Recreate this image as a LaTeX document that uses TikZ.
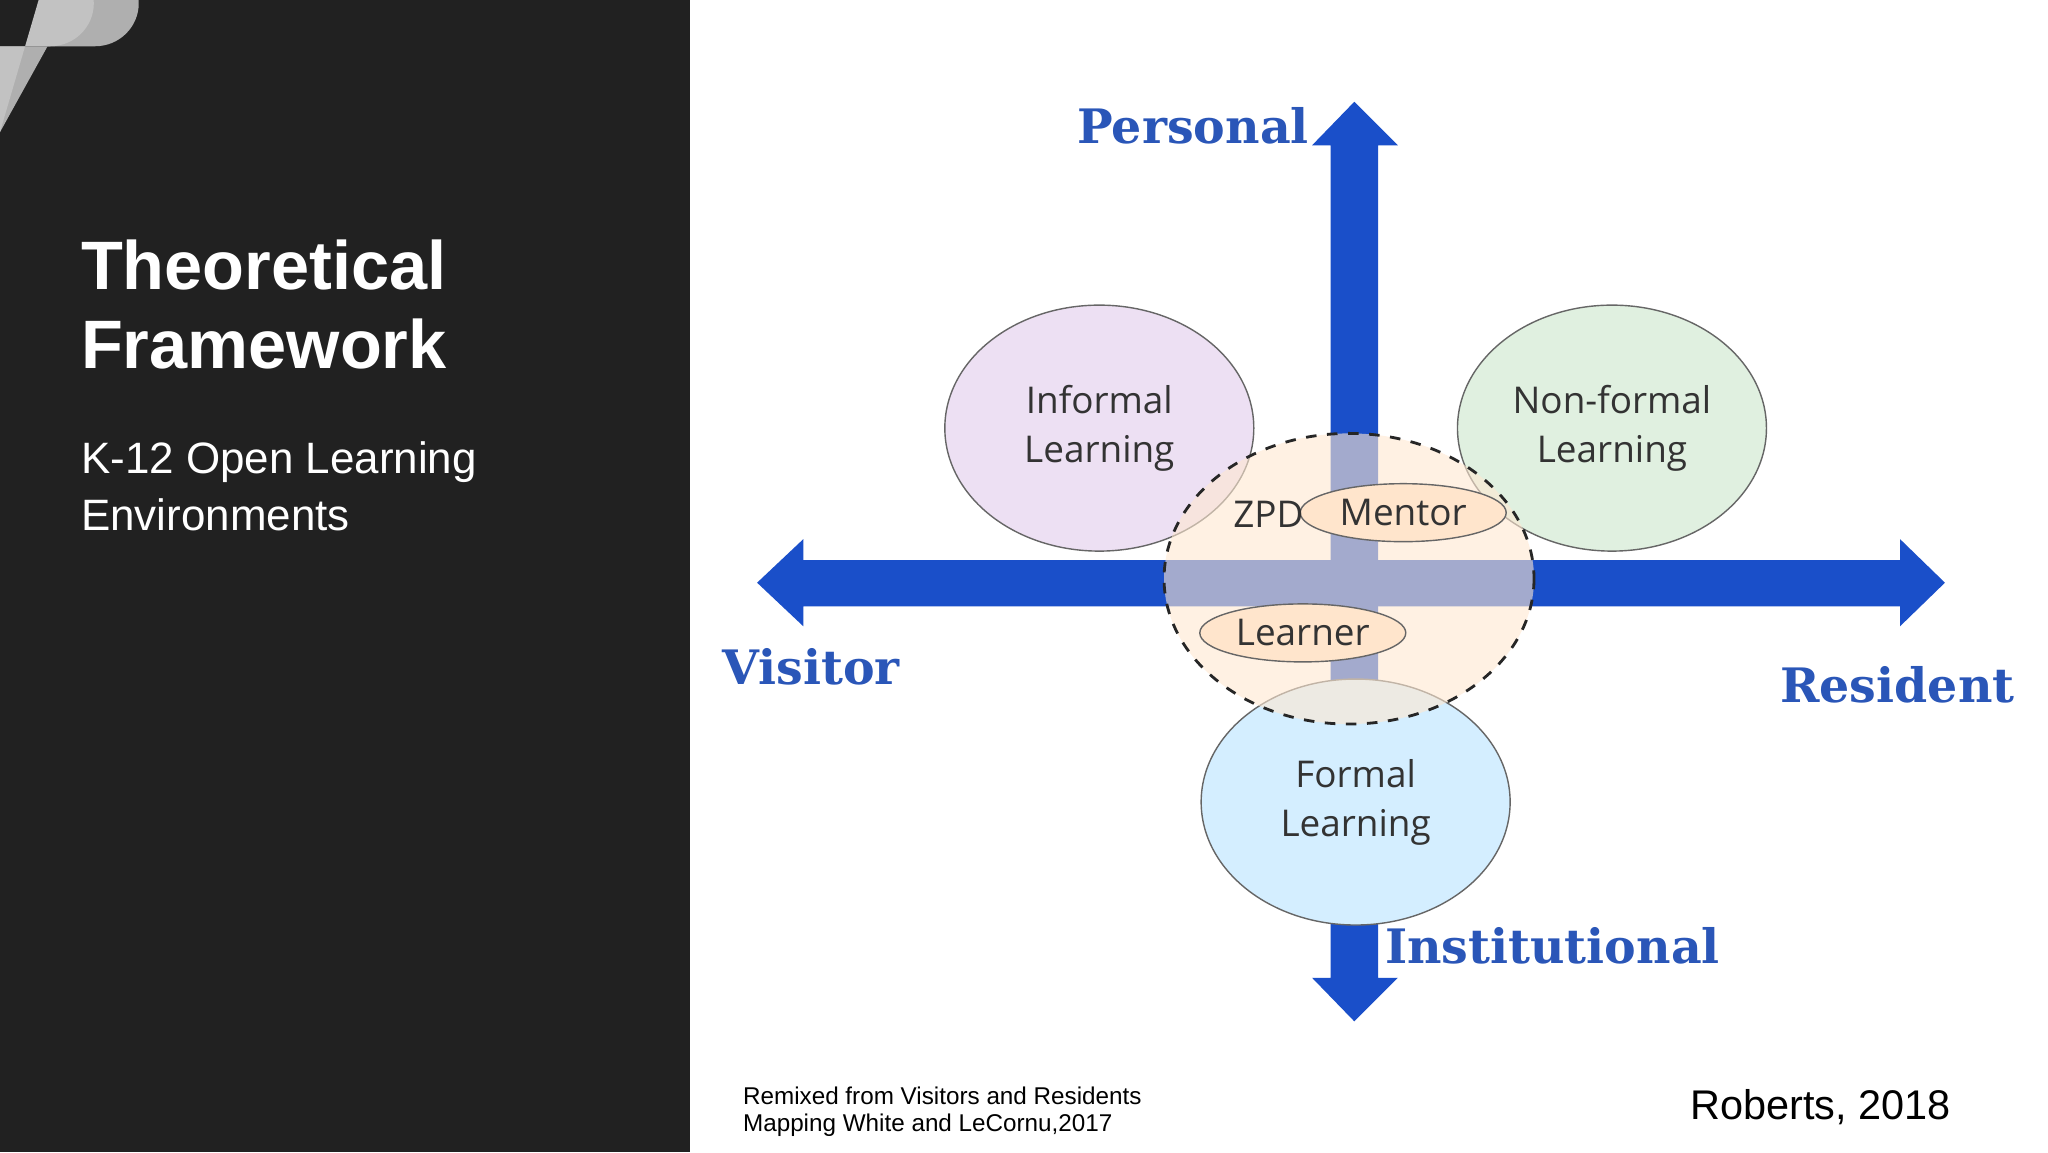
\documentclass[tikz,border=0pt]{standalone}
\usepackage{fontspec}
\setmainfont{Liberation Sans}
\newfontfamily\opensans{Open Sans}
\newfontfamily\labelserif{DejaVu Serif}
\usetikzlibrary{positioning,arrows.meta,shapes.geometric}
\definecolor{panel}{HTML}{212121}
\definecolor{axisblue}{HTML}{1A4FC9}
\definecolor{labelblue}{HTML}{2A56B8}
\tikzset{
  axis/.style={draw=none,fill=axisblue},
  zone/.style={draw=black!60,thin,ellipse,inner sep=0pt,minimum width=3.09cm,minimum height=2.46cm},
  badge/.style={draw=black!60,thin,ellipse,inner sep=0pt,minimum width=2.06cm,minimum height=0.58cm,fill=orange!20!white},
  zonetext/.style={font=\opensans\fontsize{10.5}{14}\selectfont,text=black!80,align=center},
  axislabel/.style={font=\labelserif\bfseries\fontsize{13.5}{16}\selectfont,text=labelblue},
}
\begin{document}
\begin{tikzpicture}[x=0.01321cm,y=-0.01321cm]
\useasboundingbox (0,0) rectangle (1550,872);
\fill[white] (0,0) rectangle (1550,872);
\fill[panel] (0,0) rectangle (522,872);
% tab at top left
\fill[black!70!white!45] (0,35) -- (72,35) arc (90:-90:33 and 32.5) -- (0,100) -- cycle;
\fill[black!60!white!40] (0,35) -- (38,35) arc (90:-90:33 and 32.5) -- (0,100) -- cycle;
\node[anchor=north west,font=\bfseries\fontsize{19.5}{22.5}\selectfont,text=white,align=left] (title) at (52,172) {Theoretical\\Framework};
\node[anchor=north west,font=\fontsize{12.5}{16.2}\selectfont,text=white,align=left] (sub) at (52,325) {K-12 Open Learning\\Environments};
% axes
\fill[axis] (1007,773-33) -- (993,773-33) -- (1025,773) -- (1058,773-33) -- (1043,773-33) -- (1043,110) -- (1058,110) -- (1025,77) -- (993,110) -- (1007,110) -- cycle;
\fill[axis] (608,424) -- (608,408) -- (573,441) -- (608,474) -- (608,459) -- (1438,459) -- (1438,474) -- (1472,441) -- (1438,408) -- (1438,424) -- cycle;
% zones
\node[zone,fill=red!40!blue!12!white] (informal) at (832,324) {};
\node[zone,fill=green!50!black!12!white] (nonformal) at (1220,324) {};
\node[zone,fill=blue!40!cyan!17!white] (formal) at (1026,607) {};
\fill[orange!18!white,opacity=0.6] (1021,438) ellipse (140 and 110);
\draw[black!85,dashed,thick] (1021,438) ellipse (140 and 110);
\node[badge] (mentor) at (1062,388) {};
\node[badge] (learner) at (986,479) {};
\node[zonetext] at (informal) {Informal\\Learning};
\node[zonetext] at (nonformal) {Non-formal\\Learning};
\node[zonetext] at (formal) {Formal\\Learning};
\node[zonetext] at (mentor) {Mentor};
\node[zonetext] at (learner) {Learner};
\node[zonetext] (zpd) at (960,389) {ZPD};
% axis labels
\node[axislabel] (personal) at (903,95) {Personal};
\node[axislabel] (visitor) at (614,505) {Visitor};
\node[axislabel] (resident) at (1436,518) {Resident};
\node[axislabel] (institutional) at (1175,716) {Institutional};
% credits
\node[anchor=north west,font=\fontsize{6.9}{7.9}\selectfont,align=left] (remix) at (553,813) {Remixed from Visitors and Residents\\Mapping White and LeCornu,2017};
\node[anchor=east,font=\fontsize{11.8}{14}\selectfont] (roberts) at (1486,838) {Roberts, 2018};
\end{tikzpicture}
\end{document}
